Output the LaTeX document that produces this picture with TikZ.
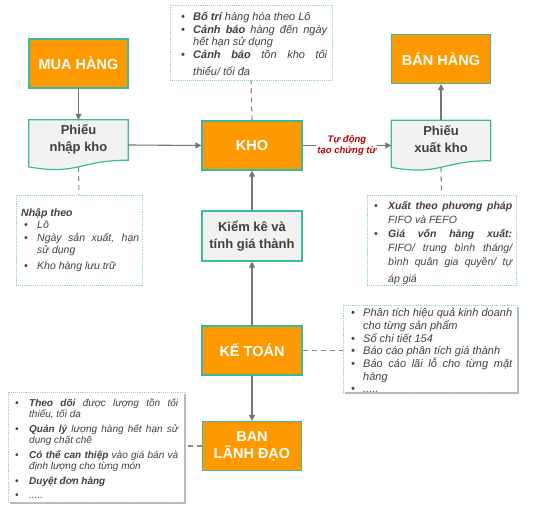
\documentclass[tikz,border=0pt]{standalone}
\usepackage{fontspec}
\setmainfont{Liberation Sans}
\usetikzlibrary{arrows.meta,shadows,calc}
\definecolor{org}{HTML}{FF9900}
\definecolor{tealbd}{HTML}{3DB8A0}
\definecolor{notebd}{HTML}{8FD2C6}
\definecolor{gfill}{HTML}{F2F2F2}
\definecolor{arrgray}{HTML}{767676}
\definecolor{txtgray}{HTML}{404040}
\definecolor{redlbl}{HTML}{C00000}
\newlength\bi
\newlength\bo
\newcommand\nitem[1]{\par\noindent\hangindent=\bi\hangafter=1\makebox[\bi][l]{\hspace{\bo}\textbullet}#1\par}
\newcommand\docshape[1]{%
  \path[draw=tealbd, line width=1.2pt, fill=gfill] (#1.north west) -- (#1.north east) -- ([yshift=10pt]#1.south east)
    .. controls ([xshift=-49.5pt,yshift=10pt]#1.south east) and ([xshift=49.5pt,yshift=-5.4pt]#1.south west) .. ([yshift=3.3pt]#1.south west) -- cycle;}
\begin{document}
\begin{tikzpicture}[x=1pt,y=-1pt,
  orangebox/.style={draw=tealbd, line width=1.2pt, fill=org, text=white, font=\fontsize{14.5}{17}\selectfont\bfseries, minimum width=99pt, minimum height=49pt, inner sep=0pt, align=center},
  graybox/.style={draw=tealbd, line width=1.2pt, fill=gfill, text=txtgray, font=\fontsize{13}{17}\selectfont\bfseries, minimum width=100pt, minimum height=50pt, inner sep=0pt, align=center},
  docframe/.style={minimum width=99pt, minimum height=50pt, inner sep=0pt},
  doctext/.style={text=txtgray, font=\fontsize{13}{17}\selectfont\bfseries, align=center, inner sep=0pt},
  notebox/.style={draw=notebd, densely dotted, line width=0.9pt, fill=white, inner sep=0pt},
  shadowed/.style={drop shadow={shadow xshift=2pt, shadow yshift=-2pt, fill=black!45, opacity=0.6}},
  notetext/.style={text=txtgray, font=\fontsize{10.5}{12.5}\selectfont\itshape, align=justify, inner sep=0pt, anchor=west},
  arr/.style={draw=arrgray, line width=1.1pt, -{Triangle[length=6pt,width=6pt]}},
  dashline/.style={draw=arrgray!85, line width=1.1pt, dash pattern=on 5pt off 4pt},
  lbl/.style={fill=white, text=redlbl, font=\fontsize{9.5}{11}\selectfont\bfseries\itshape, align=center, inner sep=1pt}
]
\useasboundingbox (0,0) rectangle (550,505);

% main boxes
\node[orangebox] (mua) at (78.5,63.5) {MUA HÀNG};
\node[orangebox] (ban) at (441,59) {BÁN HÀNG};
\node[orangebox, minimum width=100pt] (kho) at (252,145.5) {KHO};
\node[graybox] (kiem) at (252,236) {Kiểm kê và\\tính giá thành};
\node[orangebox, minimum width=100pt] (kt) at (252,350.5) {KẾ TOÁN};
\node[orangebox] (bld) at (252,446) {BAN\\LÃNH ĐẠO};

% document shapes
\node[docframe] (pn) at (78.5,145) {};
\docshape{pn}
\node[doctext] (pnt) at (78.5,139) {Phiếu\\nhập kho};
\node[docframe] (px) at (441,145.5) {};
\docshape{px}
\node[doctext] (pxt) at (441,139.5) {Phiếu\\xuất kho};

% notes
\node[notebox, minimum width=162pt, minimum height=75pt] (tn) at (251,42.5) {};
\node[notetext, text width=148pt, font=\fontsize{11}{12.5}\selectfont\itshape] (tnt) at (179,42) {\setlength\bi{14pt}\setlength\bo{2pt}%
\nitem{\textbf{Bố trí} hàng hóa theo Lô}
\nitem{\textbf{Cảnh báo} hàng đến ngày\linebreak hết hạn sử dụng}
\nitem{\textbf{Cảnh báo} tồn kho tối\linebreak\rule{0pt}{16pt}thiểu/ tối đa}};

\node[notebox, minimum width=126pt, minimum height=90pt] (ln) at (79,240) {};
\node[notetext, text width=118pt] (lnt) at (21,240) {\setlength\bi{16pt}\setlength\bo{3pt}%
\noindent\textbf{Nhập theo}\par
\nitem{Lô}
\nitem{Ngày sản xuất, hạn\linebreak sử dụng}
\vspace{3pt}
\nitem{Kho hàng lưu trữ}};

\node[notebox, minimum width=149pt, minimum height=90pt] (rn) at (441.5,240) {};
\node[notetext, text width=140pt, font=\fontsize{10.5}{14}\selectfont\itshape] (rnt) at (372,240) {\setlength\bi{16pt}\setlength\bo{2pt}%
\nitem{\textbf{Xuất theo phương pháp}\linebreak FIFO và FEFO}
\nitem{\textbf{Giá vốn hàng xuất:}\linebreak FIFO/ trung bình tháng/\linebreak bình quân gia quyền/ tự\linebreak\rule{0pt}{14pt}áp giá}};

\node[notebox, shadowed, minimum width=174pt, minimum height=87pt] (kn) at (430,348.5) {};
\node[notetext, text width=163pt, font=\fontsize{11}{12.7}\selectfont\itshape] (knt) at (349,348.5) {\setlength\bi{14pt}\setlength\bo{2pt}%
\nitem{Phân tích hiệu quả kinh doanh\linebreak cho từng sản phẩm}
\nitem{Sổ chi tiết 154}
\nitem{Báo cáo phân tích giá thành}
\nitem{Báo cáo lãi lỗ cho từng mặt\linebreak hàng}
\nitem{.....}};

\node[notebox, shadowed, minimum width=176pt, minimum height=110pt] (bn) at (96,447) {};
\node[notetext, text width=165pt, font=\fontsize{10}{11.5}\selectfont\itshape] (bnt) at (13,447) {\setlength\bi{16pt}\setlength\bo{2pt}%
\nitem{\textbf{Theo dõi} được lượng tồn tối\linebreak thiểu, tối da}
\vspace{3pt}
\nitem{\textbf{Quản lý} lượng hàng hết hạn sử\linebreak dụng chặt chẽ}
\vspace{3pt}
\nitem{\textbf{Có thể can thiệp} vào giá bán và\linebreak định lượng cho từng món}
\vspace{3pt}
\nitem{\textbf{Duyệt đơn hàng}}
\vspace{3pt}
\nitem{.....}};

% connectors
\draw[arr] (mua.south) -- (pn.north);
\draw[arr] (pn.east) -- (kho.west);
\draw[arr] (kho.east) -- node[lbl] (auto) {Tự động\\tạo chứng từ} (px.west);
\draw[arr] (px.north) -- (ban.south);
\draw[arr] (kiem.north) -- (kho.south);
\draw[arr] (kt.north) -- (kiem.south);
\draw[arr] (kt.south) -- (bld.north);

\draw[dashline] (kho.north) -- (tn.south);
\draw[dashline] ([yshift=3.4pt]pn.south) -- (ln.north);
\draw[dashline] ([yshift=3.4pt]px.south) -- (rn.north);
\draw[dashline] (kt.east) -- (kn.west |- kt.east);
\draw[dashline] (bld.west) -- (bn.east |- bld.west);
\end{tikzpicture}
\end{document}
